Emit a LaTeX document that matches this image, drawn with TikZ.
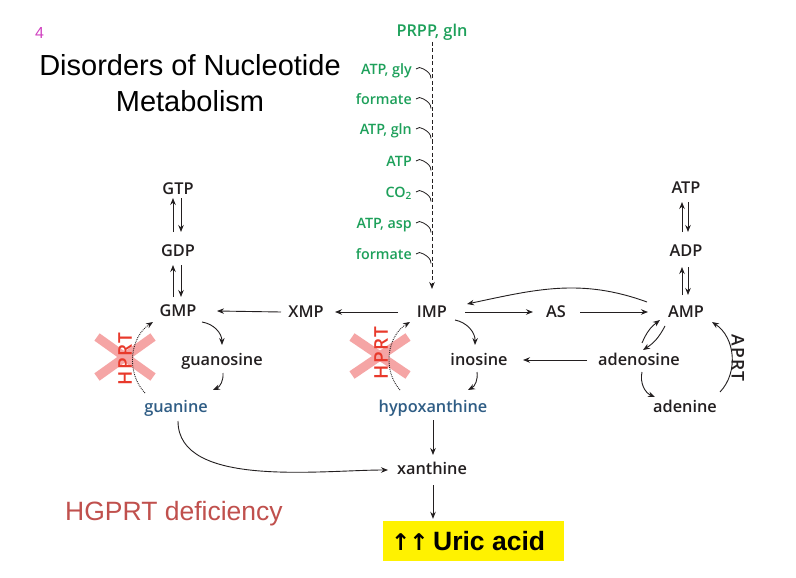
\documentclass[tikz,border=0pt]{standalone}
\usepackage{fontspec}
\setmainfont{Liberation Sans}
\newfontfamily\lab{Open Sans Semibold}
\newfontfamily\labsp{Open Sans Semibold}[LetterSpace=8]
\newfontfamily\arrfont{DejaVu Sans}
\usetikzlibrary{arrows.meta,calc}
\definecolor{grn}{HTML}{1DA05A}
\definecolor{blu}{HTML}{2F5D85}
\definecolor{hred}{HTML}{E8392B}
\definecolor{xpink}{HTML}{F5A5A5}
\definecolor{mag}{HTML}{D040C0}
\definecolor{defred}{HTML}{C0504D}
\definecolor{ink}{HTML}{231F20}
\begin{document}
\begin{tikzpicture}[x=1pt,y=-1pt,
  lbl/.style={font=\lab\fontsize{16.3}{18}\selectfont, text=ink, inner sep=0pt, text height=11.7pt, text depth=0pt},
  blbl/.style={lbl, text=blu},
  glbl/.style={font=\lab\fontsize{14.3}{16}\selectfont, text=grn, inner sep=0pt, anchor=east, text height=10.2pt, text depth=0pt},
  arr/.style={draw=ink, line width=0.9pt, -{Stealth[length=7pt,width=5.5pt]}},
  dotarr/.style={arr, densely dotted},
  sq/.style={draw=ink, line width=0.8pt},
  xmark/.style={draw=xpink, line width=9pt},
  enz/.style={font=\labsp\fontsize{19}{22}\selectfont, inner sep=0pt},
]
\useasboundingbox (0,0) rectangle (796,578);
\fill[white] (0,0) rectangle (796,578);

% title texts
\node[font=\fontsize{16}{18}\selectfont, text=mag, anchor=base west, inner sep=0pt] (num) at (35,39) {4};
\node[font=\fontsize{29}{32}\selectfont, anchor=base, inner sep=0pt] (title1) at (190,76) {Disorders of Nucleotide};
\node[font=\fontsize{29}{32}\selectfont, anchor=base, inner sep=0pt] (title2) at (190,111) {Metabolism};
\node[font=\fontsize{26.5}{30}\selectfont, text=defred, anchor=base west, inner sep=0pt] (hgprt) at (65,520) {HGPRT deficiency};

% pink crosses
\draw[xmark] (97,337) -- (153,377);
\draw[xmark] (97,377) -- (153,337);
\draw[xmark] (352,337) -- (408,375);
\draw[xmark] (352,375) -- (408,337);

% main nodes
\node[lbl] (GTP) at (178,189) {GTP};
\node[lbl] (GDP) at (178,251) {GDP};
\node[lbl] (GMP) at (178,311) {GMP};
\node[lbl] (XMP) at (306,312) {XMP};
\node[lbl] (IMP) at (432,312) {IMP};
\node[lbl] (AS) at (556,312) {AS};
\node[lbl] (AMP) at (686,312) {AMP};
\node[lbl] (ATP) at (686,188) {ATP};
\node[lbl] (ADP) at (686,251) {ADP};
\node[lbl] (guanosine) at (222,360) {guanosine};
\node[lbl] (inosine) at (479,360) {inosine};
\node[lbl] (adenosine) at (639,360) {adenosine};
\node[blbl] (guanine) at (176,407) {guanine};
\node[blbl] (hypox) at (433,407) {hypoxanthine};
\node[lbl] (adenine) at (685,407) {adenine};
\node[lbl] (xanthine) at (432,469) {xanthine};

% enzyme labels
\node[enz, text=hred, rotate=90] (hprtL) at (125,359) {HPRT};
\node[enz, text=hred, rotate=90] (hprtR) at (381,353) {HPRT};
\node[enz, font=\labsp\fontsize{17.5}{20}\selectfont, text=ink, rotate=-90] (aprt) at (738,358) {APRT};

% green precursors
\node[font=\lab\fontsize{16.3}{18}\selectfont, text=grn, inner sep=0pt, text height=11.6pt, text depth=0pt] (PRPP) at (432,31) {PRPP, gln};
\node[glbl] (g1) at (412,69) {ATP, gly};
\node[glbl] (g2) at (412,99) {formate};
\node[glbl] (g3) at (412,129) {ATP, gln};
\node[glbl] (g4) at (412,161) {ATP};
\node[glbl] (g5) at (412,192) {CO\textsubscript{2}};
\node[glbl] (g6) at (412,223) {ATP, asp};
\node[glbl] (g7) at (412,254) {formate};

\draw[arr, dash pattern=on 4pt off 2.5pt] ($(PRPP)+(0,11)$) -- ($(IMP)+(0,-23)$);
\foreach \g in {g1,g2,g3,g4,g5,g6,g7}
  \draw[sq] ($(\g.east)+(4,0)$) to[out=40,in=180] ++(3.5,-1.5) to[out=0,in=150] ++(4,1.5) to[out=-30,in=90] ++(7.5,9.5);

% nucleotide interconversions
\draw[arr] ($(GDP)+(-5,-19)$) -- ($(GTP)+(-5,9)$);
\draw[arr] ($(GTP)+(3,9)$) -- ($(GDP)+(3,-19)$);
\draw[arr] ($(GMP)+(-5,-14)$) -- ($(GDP)+(-5,14)$);
\draw[arr] ($(GDP)+(3,14)$) -- ($(GMP)+(3,-14)$);
\draw[arr] ($(ADP)+(-4,-19)$) -- ($(ATP)+(-4,14)$);
\draw[arr] ($(ATP)+(2,14)$) -- ($(ADP)+(2,-19)$);
\draw[arr] ($(AMP)+(-4,-17)$) -- ($(ADP)+(-4,16)$);
\draw[arr] ($(ADP)+(2,16)$) -- ($(AMP)+(2,-17)$);

% horizontal row
\draw[arr] ($(IMP)+(-34,0)$) -- ($(XMP)+(29,0)$);
\draw[arr] ($(XMP)+(-25,0)$) -- ($(GMP)+(39,0)$);
\draw[arr] ($(IMP)+(33,0)$) -- ($(AS)+(-23,0)$);
\draw[arr] ($(AS)+(24,0)$) -- ($(AMP)+(-38,0)$);
\draw[arr] ($(AMP)+(-39,-10)$) to[out=160,in=12] ($(IMP)+(35,-8)$);

% IMP cycle
\draw[arr] ($(IMP)+(23,8)$) to[bend left=40] ($(inosine)+(-4,-15)$);
\draw[arr] ($(inosine)+(-2,12)$) to[bend left=35] ($(hypox)+(35,-17)$);
\draw[dotarr] ($(hypox)+(-33,-17)$) to[bend left=50] ($(IMP)+(-22,10)$);
\draw[arr] ($(adenosine)+(-52,0)$) -- ($(inosine)+(44,0)$);

% GMP cycle
\draw[arr] ($(GMP)+(24,11)$) to[bend left=40] ($(guanosine)+(0,-15)$);
\draw[arr] ($(guanosine)+(1,13)$) to[bend left=35] ($(guanine)+(37,-17)$);
\draw[dotarr] ($(guanine)+(-31,-14)$) to[bend left=50] ($(GMP)+(-25,11)$);

% AMP cycle
\draw[arr] ($(adenosine)+(3,-17)$) to[bend left=15] ($(AMP)+(-26,8)$);
\draw[arr] ($(AMP)+(-21,14)$) to[bend left=15] ($(adenosine)+(4,-10)$);
\draw[arr] ($(adenosine)+(3,12)$) to[bend right=40] ($(adenine)+(-30,-10)$);
\draw[arr] ($(adenine)+(35,-15)$) to[bend right=50] ($(AMP)+(26,10)$);

% degradation
\draw[arr] ($(guanine)+(2,14)$) to[out=-90,in=180,looseness=0.8] ($(xanthine)+(-44,1)$);
\draw[arr] ($(hypox)+(0,13)$) -- ($(xanthine)+(1,-14)$);

\node[fill=yellow, minimum width=181pt, minimum height=40pt, inner sep=0pt] (uric) at (473.5,541) {};
\node[font=\bfseries\fontsize{26.5}{28}\selectfont, inner sep=0pt, anchor=base west] (urictxt) at (391,550) {{\arrfont\fontsize{23}{26}\selectfont ↑\kern-1pt↑}\,Uric acid};
\draw[arr] ($(xanthine)+(1,16)$) -- ($(uric.north)+(-40.5,-2)$);
\end{tikzpicture}
\end{document}
